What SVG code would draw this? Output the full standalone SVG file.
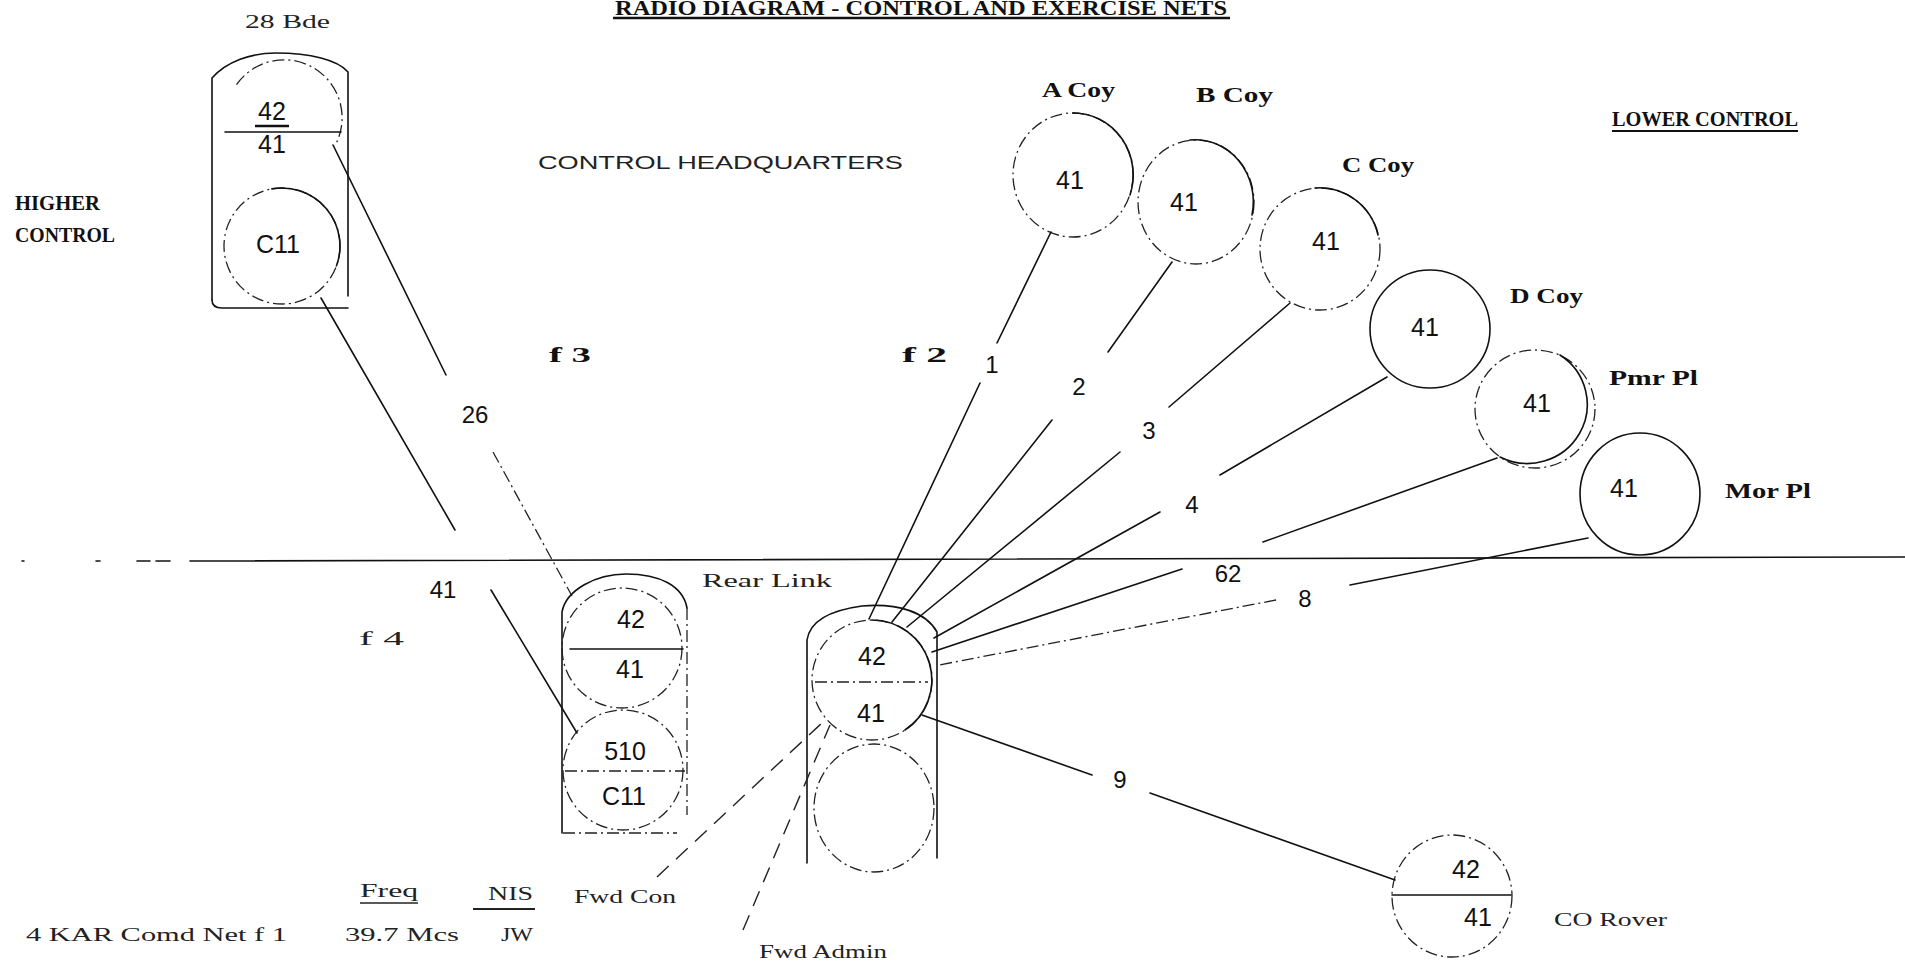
<svg xmlns="http://www.w3.org/2000/svg" width="1905" height="961" viewBox="0 0 1905 961">
<style>
.ln{fill:none;stroke:#111;stroke-width:1.6;stroke-linecap:round}
.dsh{fill:none;stroke:#222;stroke-width:1.3;stroke-dasharray:12 4 2 4}
.dd{fill:none;stroke:#222;stroke-width:1.4;stroke-dasharray:16 10}
.tw{font-family:"Liberation Serif",serif;font-size:19px;fill:#222}
.twb{font-family:"Liberation Serif",serif;font-weight:bold;font-size:20px;fill:#111}
.num{font-family:"Liberation Sans",sans-serif;font-size:25px;fill:#111;text-anchor:middle}
.lbl{font-family:"Liberation Sans",sans-serif;font-size:24px;fill:#111;text-anchor:middle}
.hq{font-family:"Liberation Sans",sans-serif;font-size:18px;fill:#222}
</style>
<rect width="1905" height="961" fill="#fff"/>

<g id="title">
<text x="615" y="15" class="twb" font-size="13" textLength="612" lengthAdjust="spacingAndGlyphs">RADIO DIAGRAM - CONTROL AND EXERCISE NETS</text>
<line x1="613" y1="18" x2="1230" y2="18" stroke="#111" stroke-width="2.5"/>
</g>

<g id="labels">
<text x="15" y="210" class="twb" font-size="19" textLength="85" lengthAdjust="spacingAndGlyphs">HIGHER</text>
<text x="15" y="242" class="twb" font-size="19" textLength="100" lengthAdjust="spacingAndGlyphs">CONTROL</text>
<text x="538" y="169" class="hq" textLength="365" lengthAdjust="spacingAndGlyphs">CONTROL HEADQUARTERS</text>
<text x="1612" y="126" class="twb" font-size="20" textLength="186" lengthAdjust="spacingAndGlyphs">LOWER CONTROL</text>
<line x1="1612" y1="131" x2="1798" y2="131" stroke="#111" stroke-width="2"/>
<text x="549" y="362" class="twb" textLength="42" lengthAdjust="spacingAndGlyphs">f 3</text>
<text x="902" y="362" class="twb" textLength="45" lengthAdjust="spacingAndGlyphs">f 2</text>
<text x="359" y="645" class="tw" textLength="45" lengthAdjust="spacingAndGlyphs">f 4</text>
<text x="702" y="587" class="tw" textLength="130" lengthAdjust="spacingAndGlyphs">Rear Link</text>
</g>

<g id="bde28">
<text x="245" y="28" class="tw" font-size="20" textLength="85" lengthAdjust="spacingAndGlyphs">28 Bde</text>
<path class="ln" d="M212,300 L212,78 C226,62 250,53 276,53 C310,53 338,60 348,72 L348,296"/>
<path class="ln" d="M212,300 Q212,308 222,308 L348,308"/>
<path class="dsh" d="M236.5,84.7 A58,58 0 0 1 336.6,142.5"/>
<line class="ln" x1="225" y1="132" x2="341" y2="132"/>
<text x="272" y="120" class="num">42</text>
<line x1="255" y1="126" x2="289" y2="126" stroke="#111" stroke-width="2.5"/>
<text x="272" y="153" class="num">41</text>
<circle class="dsh" cx="282" cy="246" r="58"/>
<path class="ln" d="M271.9,188.9 A58,58 0 0 1 336.5,265.8"/>
<text x="278" y="253" class="num" font-size="24">C11</text>
</g>

<g id="acoy">
<ellipse class="dsh" cx="1073" cy="175" rx="60" ry="62"/>
<path class="ln" d="M1073,113 A60,62 0 0 1 1130,195"/>
<text x="1070" y="189" class="num" font-size="27">41</text>
<text x="1042" y="97" class="twb" textLength="73" lengthAdjust="spacingAndGlyphs">A Coy</text>
</g>
<g id="bcoy">
<ellipse class="dsh" cx="1196" cy="202" rx="58" ry="62"/>
<path class="ln" d="M1190,140 A58,62 0 0 1 1252,215"/>
<text x="1184" y="211" class="num" font-size="27">41</text>
<text x="1196" y="102" class="twb" textLength="77" lengthAdjust="spacingAndGlyphs">B Coy</text>
</g>
<g id="ccoy">
<ellipse class="dsh" cx="1320" cy="249" rx="60" ry="61"/>
<path class="ln" d="M1315,188 A60,61 0 0 1 1378,235"/>
<text x="1326" y="250" class="num" font-size="27">41</text>
<text x="1342" y="172" class="twb" textLength="72" lengthAdjust="spacingAndGlyphs">C Coy</text>
</g>
<g id="dcoy">
<ellipse class="ln" cx="1430" cy="329" rx="60" ry="59"/>
<text x="1425" y="336" class="num" font-size="27">41</text>
<text x="1510" y="303" class="twb" textLength="73" lengthAdjust="spacingAndGlyphs">D Coy</text>
</g>
<g id="pmrpl">
<ellipse class="dsh" cx="1535" cy="409" rx="60" ry="59"/>
<path class="ln" d="M1560,355 A60,59 0 0 1 1500,457"/>
<text x="1537" y="412" class="num" font-size="27">41</text>
<text x="1609" y="385" class="twb" textLength="89" lengthAdjust="spacingAndGlyphs">Pmr Pl</text>
</g>
<g id="morpl">
<ellipse class="ln" cx="1640" cy="494" rx="60" ry="61"/>
<text x="1624" y="497" class="num" font-size="27">41</text>
<text x="1725" y="498" class="twb" textLength="86" lengthAdjust="spacingAndGlyphs">Mor Pl</text>
</g>

<g id="fwdcon">
<path class="ln" d="M562,833 L562,612 C566,590 596,574 626,574 C660,574 683,586 687,608"/>
<line class="dsh" x1="687" y1="608" x2="687" y2="815"/>
<line class="dsh" x1="563" y1="833" x2="677" y2="833"/>
<circle class="dsh" cx="622" cy="648" r="60"/>
<line class="ln" x1="570" y1="649" x2="683" y2="649"/>
<circle class="dsh" cx="623" cy="770" r="60"/>
<line class="dsh" x1="565" y1="771" x2="685" y2="771"/>
<text x="631" y="628" class="num">42</text>
<text x="630" y="678" class="num">41</text>
<text x="625" y="760" class="num">510</text>
<text x="624" y="805" class="num" font-size="24">C11</text>
</g>

<g id="fwdadmin">
<path class="ln" d="M807,863 L807,640 C810,620 832,610 862,606 C898,603 926,612 937,632 L937,858"/>
<circle class="dsh" cx="872" cy="680" r="60"/>
<path class="ln" d="M872,620 A60,60 0 0 1 905,730"/>
<line class="dsh" x1="815" y1="682" x2="928" y2="682"/>
<ellipse class="dsh" cx="874" cy="808" rx="60" ry="64"/>
<text x="872" y="665" class="num">42</text>
<text x="871" y="722" class="num">41</text>
</g>

<g id="corover">
<ellipse class="dsh" cx="1452" cy="896" rx="60" ry="61"/>
<line class="ln" x1="1392" y1="895" x2="1511" y2="895"/>
<text x="1466" y="878" class="num">42</text>
<text x="1478" y="926" class="num">41</text>
<text x="1554" y="926" class="tw" textLength="113" lengthAdjust="spacingAndGlyphs">CO Rover</text>
</g>

<g id="legend">
<text x="360" y="897" class="tw" textLength="58" lengthAdjust="spacingAndGlyphs">Freq</text>
<line x1="360" y1="903" x2="418" y2="903" stroke="#222" stroke-width="1.6"/>
<text x="488" y="900" class="tw" textLength="45" lengthAdjust="spacingAndGlyphs">NIS</text>
<line x1="473" y1="909" x2="535" y2="909" stroke="#222" stroke-width="2"/>
<text x="574" y="903" class="tw" textLength="102" lengthAdjust="spacingAndGlyphs">Fwd Con</text>
<text x="26" y="941" class="tw" textLength="261" lengthAdjust="spacingAndGlyphs">4 KAR Comd Net f 1</text>
<text x="345" y="941" class="tw" textLength="114" lengthAdjust="spacingAndGlyphs">39.7 Mcs</text>
<text x="501" y="941" class="tw" textLength="32" lengthAdjust="spacingAndGlyphs">JW</text>
<text x="759" y="958" class="tw" textLength="128" lengthAdjust="spacingAndGlyphs">Fwd Admin</text>
</g>

<g id="connectors">
<path class="ln" stroke-width="1.8" d="M190,561 L1905,557"/>
<path class="ln" stroke-width="1.6" d="M22,561 L24,561 M96,561 L100,561 M137,561 L150,561 M156,561 L170,561"/>
<path class="ln" d="M1051,232 L997,343 M980,383 L869,619"/>
<path class="ln" d="M1172,262 L1108,352 M1052,420 L892,622"/>
<path class="ln" d="M1290,303 L1169,407 M1120,452 L907,627"/>
<path class="ln" d="M1387,377 L1220,475 M1160,512 L934,638"/>
<path class="ln" d="M1497,458 L1263,542 M1182,569 L932,652"/>
<path class="ln" d="M1588,538 L1350,585"/>
<path class="dsh" d="M1276,600 L939,665"/>
<path class="ln" d="M922,715 L1092,775 M1150,793 L1395,880"/>
<path class="ln" d="M333,145 L446,375"/>
<path class="dsh" d="M493,452 L572,596"/>
<path class="ln" d="M321,298 L455,530 M491,590 L577,733"/>
<path class="dd" d="M657,877 L823,722"/>
<path class="dd" d="M743,930 L830,725"/>
<text x="992" y="373" class="lbl">1</text>
<text x="1079" y="395" class="lbl">2</text>
<text x="1149" y="439" class="lbl">3</text>
<text x="1192" y="513" class="lbl">4</text>
<text x="1228" y="582" class="lbl">62</text>
<text x="1305" y="607" class="lbl">8</text>
<text x="1120" y="788" class="lbl">9</text>
<text x="475" y="423" class="lbl">26</text>
<text x="443" y="598" class="lbl">41</text>
</g>
</svg>
